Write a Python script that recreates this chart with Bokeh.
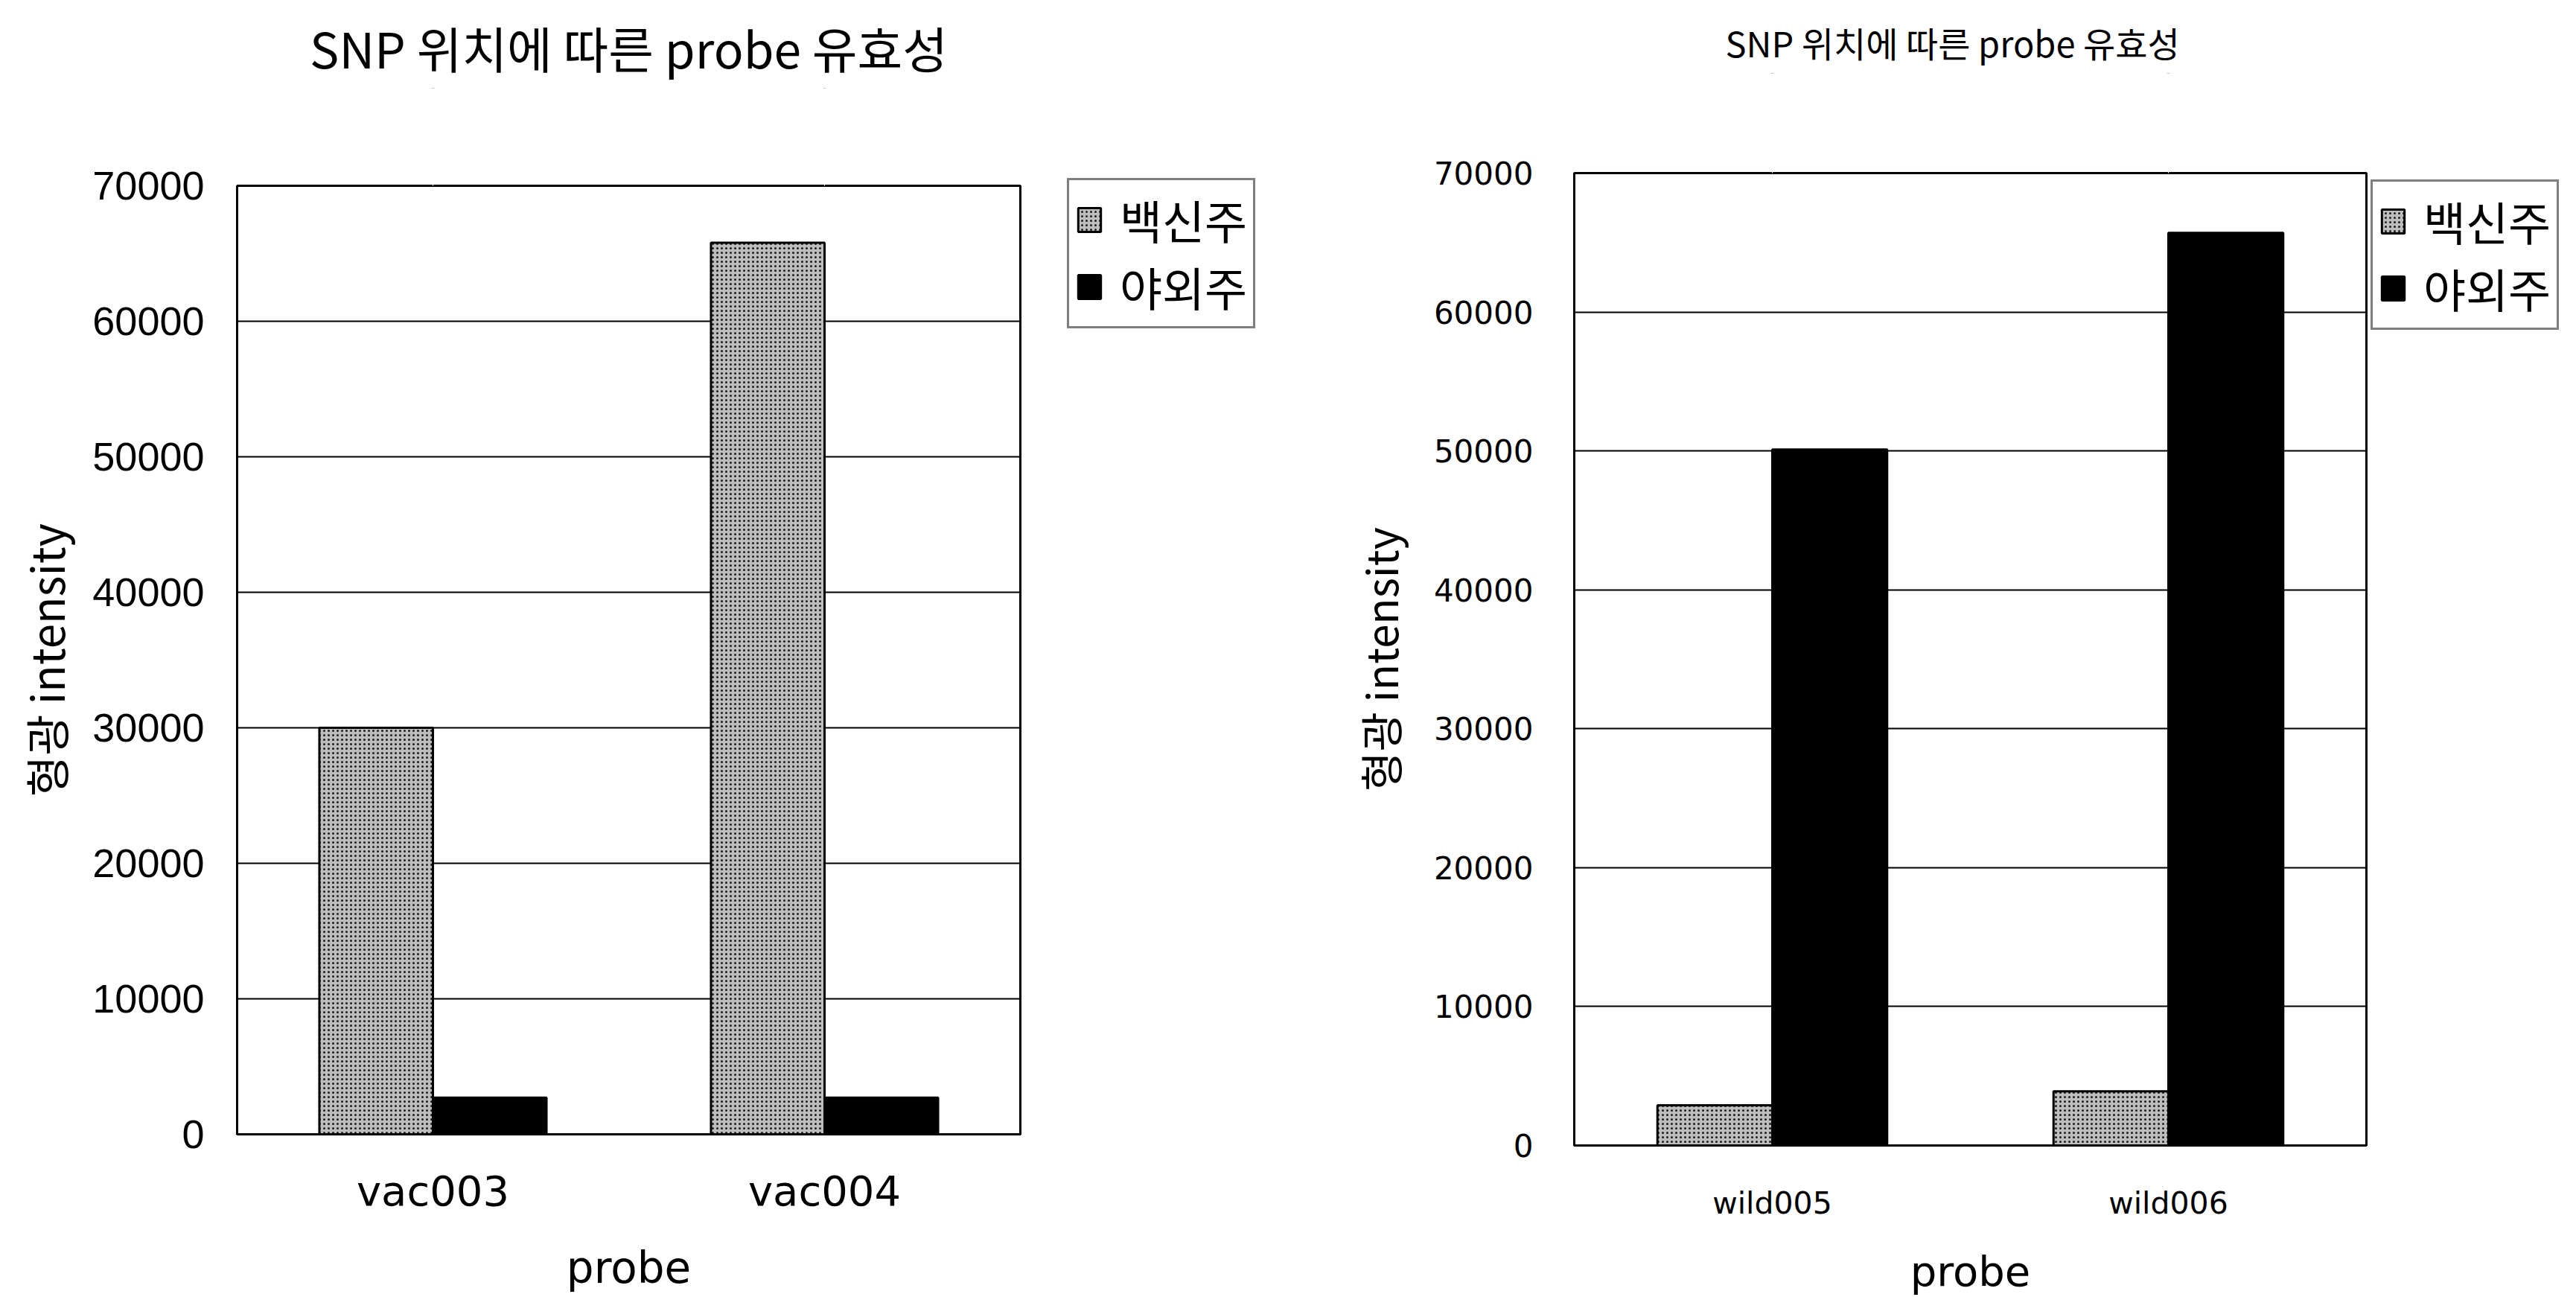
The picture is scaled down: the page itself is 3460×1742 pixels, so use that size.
from bokeh.plotting import figure
from bokeh.layouts import row, column
from bokeh.models import (ColumnDataSource, FactorRange, Range1d, FixedTicker,
                          Legend, LegendItem, CategoricalAxis)
from bokeh.transform import dodge
from bokeh.embed import file_html
from bokeh.resources import INLINE

# ---- data ----
title_text = "SNP 위치에 따른 probe 유효성"
series_names = ["백신주", "야외주"]

left_probes = ["vac003", "vac004"]
left_vaccine = [30000, 65800]
left_wild = [2700, 2700]

right_probes = ["wild005", "wild006"]
right_vaccine = [2900, 3900]
right_wild = [50100, 65700]

y_ticks = [0, 10000, 20000, 30000, 40000, 50000, 60000, 70000]

KR = "Noto Sans CJK KR"

# room the side legend panel claims beyond each chart's own right border
LEGEND_PANEL = 719


def blank_axis(p, factors, size):
    """An unlabeled axis above the frame that only reserves room under the title."""
    ax = CategoricalAxis()
    ax.axis_line_color = None
    ax.major_tick_line_color = "white"
    ax.major_tick_out = size
    ax.major_tick_in = 0
    ax.major_label_overrides = {f: "" for f in factors}
    ax.major_label_text_font_size = "1px"
    ax.major_label_standoff = 0
    p.add_layout(ax, "above")


def make_chart(probes, vac, wild, *, frame_w, frame_h, borders, title_px,
               title_pad, title_align, title_offset, tick_font, tick_px,
               tick_standoff, cat_font, cat_px, cat_standoff, xlab_px,
               xlab_standoff, ylab_px, ylab_standoff, legend_loc):
    src = ColumnDataSource(dict(probe=probes, vac=vac, wild=wild))
    left, right, top, bottom = borders
    p = figure(x_range=FactorRange(*probes), y_range=Range1d(0, 70000),
               frame_width=frame_w, frame_height=frame_h,
               min_border_left=left, min_border_right=right,
               min_border_top=top, min_border_bottom=bottom,
               output_backend="svg", toolbar_location=None,
               background_fill_color="white", border_fill_color="white")

    blank_axis(p, probes, title_pad)

    p.title.text = title_text
    p.title.align = title_align
    p.title.offset = title_offset
    p.title.text_font = KR
    p.title.text_font_size = f"{title_px}px"
    p.title.text_font_style = "normal"
    p.title.text_color = "black"
    p.title.standoff = 10

    bw = 0.29
    r_vac = p.vbar(x=dodge("probe", -0.145, range=p.x_range), top="vac",
                   width=bw, source=src, fill_color="#bdbdbd",
                   hatch_pattern="dot", hatch_color="#1a1a1a",
                   hatch_scale=6, hatch_weight=2.5,
                   line_color="black", line_width=3)
    r_wild = p.vbar(x=dodge("probe", 0.145, range=p.x_range), top="wild",
                    width=bw, source=src, fill_color="black",
                    line_color="black", line_width=3)

    # frame and grid
    p.outline_line_color = "black"
    p.outline_line_width = 3
    p.xgrid.grid_line_color = None
    p.ygrid.grid_line_color = "black"
    p.ygrid.grid_line_width = 2
    p.ygrid.grid_line_alpha = 1

    yax = p.yaxis[0]
    yax.ticker = FixedTicker(ticks=y_ticks)
    yax.axis_line_color = "black"
    yax.axis_line_width = 3
    yax.major_tick_out = 0
    yax.major_tick_in = 0
    yax.minor_tick_out = 0
    yax.minor_tick_in = 0
    yax.major_label_text_font = tick_font
    yax.major_label_text_font_size = f"{tick_px}px"
    yax.major_label_text_color = "black"
    yax.major_label_standoff = tick_standoff
    yax.axis_label = "형광 intensity"
    yax.axis_label_text_font = KR
    yax.axis_label_text_font_size = f"{ylab_px}px"
    yax.axis_label_text_font_style = "normal"
    yax.axis_label_text_color = "black"
    yax.axis_label_standoff = ylab_standoff

    xax = p.below[0]
    xax.axis_line_color = "black"
    xax.axis_line_width = 3
    xax.major_tick_out = 0
    xax.major_tick_in = 0
    xax.major_label_text_font = cat_font
    xax.major_label_text_font_size = f"{cat_px}px"
    xax.major_label_text_color = "black"
    xax.major_label_standoff = cat_standoff
    xax.axis_label = "probe"
    xax.axis_label_text_font = cat_font
    xax.axis_label_text_font_size = f"{xlab_px}px"
    xax.axis_label_text_font_style = "normal"
    xax.axis_label_text_color = "black"
    xax.axis_label_standoff = xlab_standoff

    legend = Legend(items=[LegendItem(label=series_names[0], renderers=[r_vac]),
                           LegendItem(label=series_names[1], renderers=[r_wild])],
                    location=legend_loc, orientation="vertical",
                    border_line_color="black", border_line_width=3,
                    background_fill_color="white", background_fill_alpha=1,
                    label_text_font=KR, label_text_font_size="62px",
                    label_text_color="black",
                    glyph_width=38, glyph_height=40, label_standoff=22,
                    padding=8, spacing=0, margin=0)
    p.add_layout(legend, "right")
    return p


left_chart = make_chart(
    left_probes, left_vaccine, left_wild,
    frame_w=1052, frame_h=1274, borders=(318, 390, 249, 219),
    title_px=66, title_pad=130, title_align="center", title_offset=0,
    tick_font="Liberation Sans", tick_px=54, tick_standoff=44,
    cat_font="DejaVu Sans", cat_px=56, cat_standoff=43,
    xlab_px=58, xlab_standoff=34, ylab_px=60, ylab_standoff=17,
    legend_loc=(63, 1082))

right_chart = make_chart(
    right_probes, right_vaccine, right_wild,
    frame_w=1064, frame_h=1308, borders=(358, 278, 232, 202),
    title_px=47, title_pad=133, title_align="left", title_offset=203,
    tick_font="DejaVu Sans", tick_px=42, tick_standoff=55,
    cat_font="DejaVu Sans", cat_px=41, cat_standoff=53,
    xlab_px=56, xlab_standoff=32, ylab_px=58, ylab_standoff=28,
    legend_loc=(6, 1095))

# the left chart occupies 1760 px; its unused legend panel is overlapped
left_col = column(left_chart, margin=(0, -(LEGEND_PANEL - 390), 0, 0))
right_col = column(right_chart)

layout = row(left_col, right_col, spacing=0, width=3460, height=1742,
             sizing_mode="fixed", styles={"overflow": "hidden"})

with open("out.html", "w") as f:
    f.write(file_html(layout, INLINE))
